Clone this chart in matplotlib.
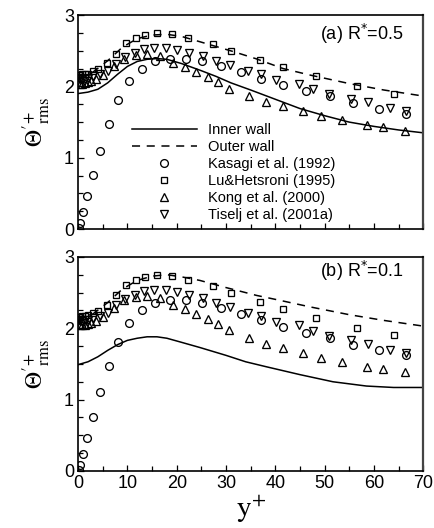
import matplotlib
matplotlib.use("Agg")
import matplotlib.pyplot as plt
from matplotlib.ticker import MultipleLocator
from matplotlib.lines import Line2D

plt.rcParams['font.family'] = ['Liberation Sans', 'DejaVu Sans']
plt.rcParams['lines.scale_dashes'] = False

# ---- data (shared DNS/experimental markers) ----
kasagi_x = [0.15, 0.35, 1.0, 1.9, 3.0, 4.4, 6.2, 8.0, 10.3, 12.9, 15.6, 18.6, 21.8, 25.2, 28.9, 33.1, 37.2, 41.6, 46.3, 51.1, 55.8, 61.0, 66.6]
kasagi_y = [0.02, 0.09, 0.24, 0.46, 0.76, 1.10, 1.47, 1.81, 2.08, 2.25, 2.36, 2.39, 2.39, 2.35, 2.28, 2.20, 2.11, 2.02, 1.94, 1.86, 1.77, 1.69, 1.62]

lu_x = [0.1, 0.4, 0.8, 1.3, 2.0, 3.0, 4.1, 5.8, 7.6, 9.8, 11.8, 13.5, 16.1, 19.1, 22.2, 27.4, 31.1, 36.9, 41.5, 48.3, 56.5, 64.1]
lu_y = [2.16, 2.16, 2.17, 2.17, 2.18, 2.21, 2.24, 2.33, 2.46, 2.61, 2.68, 2.72, 2.75, 2.73, 2.68, 2.59, 2.50, 2.37, 2.27, 2.15, 2.00, 1.90]

kong_x = [0.1, 0.4, 0.8, 1.3, 2.0, 2.7, 3.6, 5.1, 7.3, 9.3, 11.7, 14.0, 16.6, 19.2, 21.7, 24.0, 26.3, 28.4, 30.6, 34.6, 38.2, 41.6, 45.6, 49.2, 53.5, 58.6, 61.9, 66.3]
kong_y = [2.06, 2.04, 2.04, 2.05, 2.06, 2.08, 2.10, 2.16, 2.29, 2.39, 2.44, 2.45, 2.42, 2.33, 2.27, 2.20, 2.13, 2.06, 1.97, 1.86, 1.78, 1.72, 1.65, 1.58, 1.53, 1.46, 1.43, 1.38]

tiselj_x = [0.1, 0.4, 0.8, 1.3, 2.0, 3.0, 4.5, 6.0, 7.6, 9.5, 11.5, 13.4, 15.4, 17.8, 20.1, 22.5, 25.4, 27.9, 30.8, 34.4, 37.2, 40.1, 44.8, 47.7, 51.0, 55.3, 58.8, 63.3, 66.6]
tiselj_y = [2.12, 2.11, 2.10, 2.11, 2.12, 2.14, 2.17, 2.22, 2.32, 2.41, 2.47, 2.52, 2.54, 2.54, 2.51, 2.47, 2.42, 2.36, 2.30, 2.22, 2.17, 2.09, 2.04, 1.96, 1.89, 1.83, 1.78, 1.70, 1.66]

# ---- panel (a) R*=0.5 ----
inner_a_x = [0, 2, 4, 6, 8, 10, 12, 14, 16, 18, 21, 25, 28, 31, 35, 40, 45, 50, 55, 60, 65, 70]
inner_a_y = [1.90, 1.92, 1.96, 2.05, 2.17, 2.28, 2.35, 2.38, 2.39, 2.38, 2.32, 2.22, 2.14, 2.05, 1.95, 1.82, 1.69, 1.59, 1.50, 1.44, 1.39, 1.35]
outer_a_x = [0, 3, 6, 9, 12, 15, 18, 21, 25, 31.4, 36, 41.6, 47, 55, 62, 70]
outer_a_y = [2.12, 2.20, 2.36, 2.55, 2.67, 2.72, 2.73, 2.70, 2.62, 2.49, 2.39, 2.25, 2.16, 2.04, 1.95, 1.865]

# ---- panel (b) R*=0.1 ----
inner_b_x = [0, 2, 4, 6, 8, 10, 12, 14, 16, 18, 20.6, 24.7, 30, 34, 38.2, 45, 51.7, 58.5, 64, 70]
inner_b_y = [1.49, 1.53, 1.60, 1.69, 1.77, 1.83, 1.86, 1.88, 1.88, 1.86, 1.81, 1.73, 1.62, 1.53, 1.46, 1.35, 1.25, 1.19, 1.17, 1.17]
outer_b_x = [0, 3, 6, 9, 12, 15, 18, 21, 24.7, 30, 36.2, 41, 47, 55, 62, 70]
outer_b_y = [2.12, 2.20, 2.36, 2.55, 2.67, 2.73, 2.75, 2.72, 2.67, 2.57, 2.46, 2.39, 2.30, 2.19, 2.11, 2.03]

panel_labels = ["(a) R$^{*}$=0.5", "(b) R$^{*}$=0.1"]
legend_labels = ["Inner wall", "Outer wall", "Kasagi et al. (1992)", "Lu&Hetsroni (1995)",
                 "Kong et al. (2000)", "Tiselj et al. (2001a)"]

fig = plt.figure(figsize=(4.34, 5.28), dpi=100)
ax_a = fig.add_axes([0.18, 0.566, 0.795, 0.4055])
ax_b = fig.add_axes([0.18, 0.108, 0.795, 0.4055])

mk = dict(linestyle='none', markerfacecolor='none', markeredgecolor='black', markeredgewidth=0.95)
MS = {'o': 5.6, 's': 4.3, '^': 5.2, 'v': 5.2}
DASH = (5.8, 4.8)

def draw(ax, ix, iy, ox, oy, label, show_x):
    ax.plot(ix, iy, color='black', lw=1.1)
    ax.plot(ox, oy, color='black', lw=1.1, dashes=DASH)
    ax.plot(kasagi_x, kasagi_y, marker='o', markersize=MS['o'], **mk)
    ax.plot(lu_x, lu_y, marker='s', markersize=MS['s'], **mk)
    ax.plot(kong_x, kong_y, marker='^', markersize=MS['^'], **mk)
    ax.plot(tiselj_x, tiselj_y, marker='v', markersize=MS['v'], **mk)
    ax.set_xlim(0, 70)
    ax.set_ylim(0, 3)
    ax.xaxis.set_major_locator(MultipleLocator(10))
    ax.xaxis.set_minor_locator(MultipleLocator(5))
    ax.yaxis.set_major_locator(MultipleLocator(1))
    ax.yaxis.set_minor_locator(MultipleLocator(0.25))
    ax.tick_params(which='both', direction='in', top=False, right=False, width=0.9)
    ax.tick_params(which='major', length=4.5, labelsize=13, pad=3)
    ax.tick_params(which='minor', length=3.5)
    if not show_x:
        ax.tick_params(axis='x', labelbottom=False)
    for s in ax.spines.values():
        s.set_linewidth(1.2)
    ax.spines['right'].set_linewidth(1.6)
    ax.spines['right'].set_color('#444444')
    ax.text(0.70, 0.885 if not show_x else 0.905, label, transform=ax.transAxes,
            fontsize=13, va='baseline', ha='left',
            math_fontfamily='dejavusans')
    ax.set_ylabel(r"$\Theta'^{+}_{\rm rms}$", fontsize=17, math_fontfamily='stix', labelpad=8)

draw(ax_a, inner_a_x, inner_a_y, outer_a_x, outer_a_y, panel_labels[0], False)
draw(ax_b, inner_b_x, inner_b_y, outer_b_x, outer_b_y, panel_labels[1], True)

ax_b.set_xlabel(r"$\mathrm{y}^{+}$", fontsize=21, math_fontfamily='stix', labelpad=1)

handles = [
    Line2D([], [], color='black', lw=1.1),
    Line2D([], [], color='black', lw=1.1, dashes=DASH),
    Line2D([], [], marker='o', markersize=MS['o'], **mk),
    Line2D([], [], marker='s', markersize=MS['s'], **mk),
    Line2D([], [], marker='^', markersize=MS['^'], **mk),
    Line2D([], [], marker='v', markersize=MS['v'], **mk),
]
ax_a.legend(handles, legend_labels, loc='lower left', bbox_to_anchor=(0.155, 0.035),
            frameon=False, fontsize=10.5, handlelength=4.5, handletextpad=0.75,
            labelspacing=0.2, borderpad=0, borderaxespad=0, numpoints=1)

fig.savefig("out.png", dpi=100)
